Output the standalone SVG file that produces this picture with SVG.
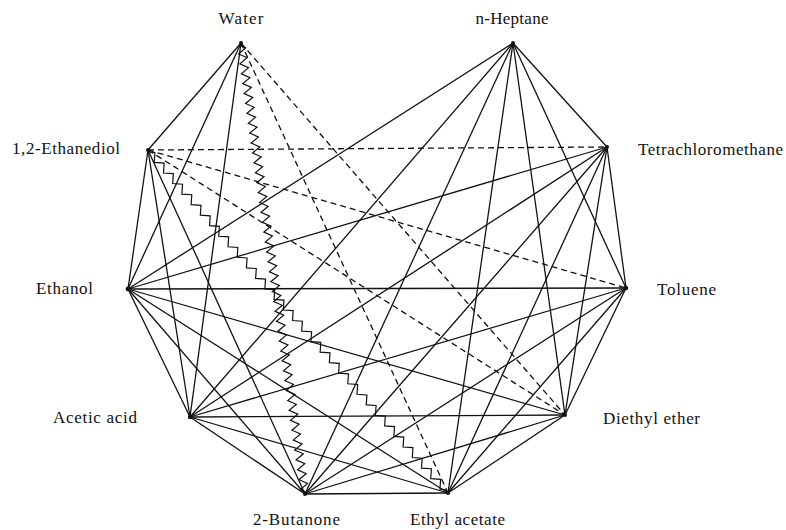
<svg xmlns="http://www.w3.org/2000/svg" width="786" height="530" viewBox="0 0 786 530">
<style>
.bg{fill:#fff}
.s{stroke:#111;stroke-width:1.3;fill:none}
.d{stroke:#111;stroke-width:1.3;fill:none;stroke-dasharray:6 4}
.z{stroke:#111;stroke-width:1.2;fill:none;stroke-linejoin:miter}
.lbl{font-family:"Liberation Serif","Times New Roman",serif;font-size:17px;fill:#111}
.dot{fill:#111}
</style>
<rect class="bg" width="786" height="530"/>
<g id="connectors">
<g id="solid">
<line class="s" x1="241" y1="43" x2="148" y2="150"/>
<line class="s" x1="241" y1="43" x2="128" y2="289"/>
<line class="s" x1="241" y1="43" x2="190" y2="417"/>
<line class="s" x1="513" y1="43" x2="607" y2="147"/>
<line class="s" x1="513" y1="43" x2="626" y2="288"/>
<line class="s" x1="513" y1="43" x2="565" y2="415"/>
<line class="s" x1="513" y1="43" x2="448" y2="493"/>
<line class="s" x1="513" y1="43" x2="305" y2="494"/>
<line class="s" x1="513" y1="43" x2="190" y2="417"/>
<line class="s" x1="513" y1="43" x2="128" y2="289"/>
<line class="s" x1="607" y1="147" x2="626" y2="288"/>
<line class="s" x1="607" y1="147" x2="565" y2="415"/>
<line class="s" x1="607" y1="147" x2="448" y2="493"/>
<line class="s" x1="607" y1="147" x2="305" y2="494"/>
<line class="s" x1="607" y1="147" x2="190" y2="417"/>
<line class="s" x1="607" y1="147" x2="128" y2="289"/>
<line class="s" x1="626" y1="288" x2="565" y2="415"/>
<line class="s" x1="626" y1="288" x2="448" y2="493"/>
<line class="s" x1="626" y1="288" x2="305" y2="494"/>
<line class="s" x1="626" y1="288" x2="190" y2="417"/>
<line class="s" x1="626" y1="288" x2="128" y2="289"/>
<line class="s" x1="565" y1="415" x2="448" y2="493"/>
<line class="s" x1="565" y1="415" x2="305" y2="494"/>
<line class="s" x1="565" y1="415" x2="190" y2="417"/>
<line class="s" x1="565" y1="415" x2="128" y2="289"/>
<line class="s" x1="448" y1="493" x2="305" y2="494"/>
<line class="s" x1="448" y1="493" x2="190" y2="417"/>
<line class="s" x1="448" y1="493" x2="128" y2="289"/>
<line class="s" x1="305" y1="494" x2="190" y2="417"/>
<line class="s" x1="305" y1="494" x2="128" y2="289"/>
<line class="s" x1="305" y1="494" x2="148" y2="150"/>
<line class="s" x1="190" y1="417" x2="128" y2="289"/>
<line class="s" x1="190" y1="417" x2="148" y2="150"/>
<line class="s" x1="128" y1="289" x2="148" y2="150"/>
</g>
<g id="dashed">
<line class="d" x1="241" y1="43" x2="448" y2="493"/>
<line class="d" x1="241" y1="43" x2="565" y2="415"/>
<line class="d" x1="148" y1="150" x2="607" y2="147" stroke-dasharray="8 4"/>
<line class="d" x1="148" y1="150" x2="626" y2="288"/>
<line class="d" x1="148" y1="150" x2="565" y2="415"/>
</g>
<g id="zigzag">
<path class="z" transform="translate(241,43) rotate(81.92)" d="M0 0h3l2.5-4l5 8l5-8l5 8l5-8l5 8l5-8l5 8l5-8 l5 8l5-8l5 8l5-8l5 8l5-8l5 8l5-8 l5 8l5-8l5 8l5-8l5 8l5-8l5 8l5-8 l5 8l5-8l5 8l5-8l5 8l5-8l5 8l5-8 l5 8l5-8l5 8l5-8l5 8l5-8l5 8l5-8 l5 8l5-8l5 8l5-8l5 8l5-8l5 8l5-8 l5 8l5-8l5 8l5-8l5 8l5-8l5 8l5-8 l5 8l5-8l5 8l5-8l5 8l5-8l5 8l5-8 l5 8l5-8l5 8l5-8l5 8l5-8l5 8l5-8 l5 8l5-8l5 8l5-8l5 8l5-8l5 8l5-8 l5 8l5-8l5 8l5-8l5 8l5-8l5 8l5-8 l5 8l2.5-4h2.5"/>
<path class="z" transform="translate(148,150) rotate(48.83)" d="M0 0h3l3.5-3.5l7 7l7-7l7 7l7-7l7 7l7-7l7 7l7-7 l7 7l7-7l7 7l7-7l7 7l7-7l7 7l7-7 l7 7l7-7l7 7l7-7l7 7l7-7l7 7l7-7 l7 7l7-7l7 7l7-7l7 7l7-7l7 7l7-7 l7 7l7-7l7 7l7-7l7 7l7-7l7 7l7-7 l7 7l7-7l7 7l7-7l7 7l7-7l7 7l7-7 l7 7l7-7l7 7l7-7l7 7l7-7l7 7l7-7 l7 7l7-7l7 7l7-7l7 7l7-7 l7 7l3.5-3.5h4.7"/>
</g>
</g>
<g id="node-water"><circle class="dot" cx="241" cy="43" r="2"/><text class="lbl" x="241" y="24" text-anchor="middle" textLength="45" lengthAdjust="spacing">Water</text></g>
<g id="node-heptane"><circle class="dot" cx="513" cy="43" r="2"/><text class="lbl" x="512" y="24" text-anchor="middle" textLength="73" lengthAdjust="spacing">n-Heptane</text></g>
<g id="node-tetrachloromethane"><circle class="dot" cx="607" cy="147" r="2"/><text class="lbl" x="638" y="155" textLength="145" lengthAdjust="spacing">Tetrachloromethane</text></g>
<g id="node-toluene"><circle class="dot" cx="626" cy="288" r="2.2"/><text class="lbl" x="657" y="295" textLength="59" lengthAdjust="spacing">Toluene</text></g>
<g id="node-diethyl-ether"><circle class="dot" cx="565" cy="415" r="2"/><text class="lbl" x="603" y="424" textLength="97" lengthAdjust="spacing">Diethyl ether</text></g>
<g id="node-ethyl-acetate"><circle class="dot" cx="448" cy="493" r="2"/><text class="lbl" x="410" y="525" textLength="95" lengthAdjust="spacing">Ethyl acetate</text></g>
<g id="node-butanone"><circle class="dot" cx="305" cy="494" r="2"/><text class="lbl" x="253" y="525" textLength="87" lengthAdjust="spacing">2-Butanone</text></g>
<g id="node-acetic-acid"><circle class="dot" cx="190" cy="417" r="2.2"/><text class="lbl" x="53" y="423" textLength="84" lengthAdjust="spacing">Acetic acid</text></g>
<g id="node-ethanol"><circle class="dot" cx="128" cy="289" r="2.4"/><text class="lbl" x="36" y="294" textLength="57" lengthAdjust="spacing">Ethanol</text></g>
<g id="node-ethanediol"><circle class="dot" cx="148" cy="150" r="2"/><text class="lbl" x="12" y="154" textLength="108" lengthAdjust="spacing">1,2-Ethanediol</text></g>
</svg>
